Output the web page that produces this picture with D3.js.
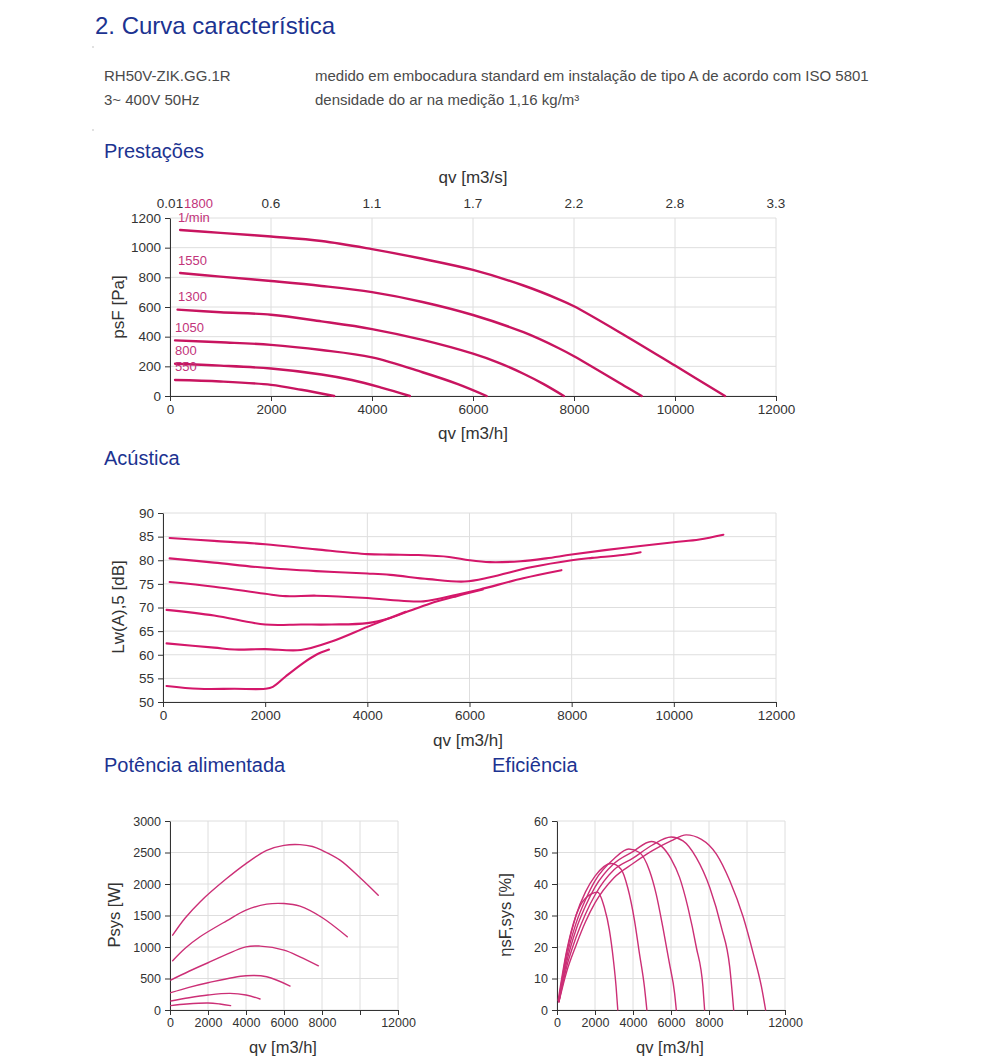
<!DOCTYPE html>
<html>
<head>
<meta charset="utf-8">
<script src="https://cdn.jsdelivr.net/npm/d3@7"></script>
<style>
body { margin: 0; background: #fff; }
svg text { font-family: "Liberation Sans", Arial, sans-serif; }
</style>
</head>
<body>
<svg id="page" width="1000" height="1061"></svg>
<script>
// ---- data ----
var speeds = ["1800", "1550", "1300", "1050", "800", "550"];

var qvTicks = [0, 2000, 4000, 6000, 8000, 10000, 12000];
var qvLabels = ["0", "2000", "4000", "6000", "8000", "10000", "12000"];
var qvSecLabels = ["0.01", "0.6", "1.1", "1.7", "2.2", "2.8", "3.3"];
var qvSmallLabels = ["0", "2000", "4000", "6000", "8000", "", "12000"];
var psTicks = [0, 200, 400, 600, 800, 1000, 1200];
var lwTicks = [50, 55, 60, 65, 70, 75, 80, 85, 90];
var pTicks = [0, 500, 1000, 1500, 2000, 2500, 3000];
var etaTicks = [0, 10, 20, 30, 40, 50, 60];

// psF [Pa] vs qv [m3/h]
var psF1800 = [[200,1119],[1000,1100],[2000,1075],[3000,1045],[4000,990],[5000,925],[6000,850],[7000,745],[7700,652],[8000,605],[9000,410],[10000,205],[10990,0]];
var psF1550 = [[200,829],[1000,805],[2000,775],[3000,742],[4000,700],[5000,634],[6000,546],[7000,430],[7700,322],[8000,268],[9000,68],[9340,0]];
var psF1300 = [[150,582],[1000,565],[2000,548],[3000,503],[4000,451],[5000,378],[6000,285],[6500,225],[7000,150],[7400,80],[7800,0]];
var psF1050 = [[100,375],[1000,362],[2000,345],[3000,310],[4000,260],[5000,160],[5700,80],[6270,0]];
var psF800  = [[100,217],[1000,205],[2000,185],[3000,145],[3600,108],[4200,55],[4750,0]];
var psF550  = [[100,108],[1000,98],[2000,75],[2600,42],[3250,0]];

// Lw(A),5 [dB] vs qv
var lw1800 = [[130,84.7],[1000,84.1],[2000,83.4],[3000,82.3],[4000,81.3],[4450,81.2],[5000,81.1],[5600,80.7],[6000,80.0],[6400,79.6],[7000,79.8],[7500,80.4],[8000,81.2],[9000,82.6],[10000,83.8],[10500,84.4],[10970,85.4]];
var lw1550 = [[130,80.4],[1000,79.5],[2000,78.4],[3000,77.7],[4000,77.2],[4450,76.9],[5200,76.0],[5900,75.5],[6400,76.4],[7200,78.5],[8000,80.0],[8400,80.5],[9000,81.1],[9350,81.7]];
var lw1300 = [[130,75.4],[1000,74.4],[2000,72.9],[2400,72.4],[3000,72.5],[4000,72.0],[4450,71.6],[5100,71.3],[5750,72.7],[6200,73.8],[7050,76.2],[7800,77.9]];
var lw1050 = [[70,69.5],[1000,68.3],[2000,66.4],[2700,66.4],[3300,66.4],[4000,66.7],[4450,67.8],[4830,69.3],[5220,70.8],[5750,72.4],[6260,73.8]];
var lw800  = [[70,62.4],[1000,61.5],[1400,61.1],[2000,61.2],[2700,61.0],[3300,62.8],[4000,65.9],[4400,67.6],[4750,69.1]];
var lw550  = [[70,53.4],[700,52.8],[1400,52.8],[2000,52.8],[2150,53.2],[2400,55.4],[2750,58.3],[3000,60.0],[3250,61.1]];

// Psys [W] vs qv
var p1800 = [[140,1188],[800,1460],[1580,1716],[2980,2086],[4000,2324],[5090,2535],[6000,2614],[6840,2625],[7500,2595],[8000,2535],[8950,2380],[10020,2095],[10960,1822]];
var p1550 = [[140,782],[800,980],[1580,1162],[2980,1415],[4000,1585],[5090,1680],[6000,1690],[6840,1648],[8000,1468],[9330,1162]];
var p1300 = [[40,475],[1000,615],[2000,750],[4000,1003],[4740,1014],[6000,951],[6840,845],[7810,702]];
var p1050 = [[40,275],[1000,360],[2000,433],[4000,544],[5090,528],[6320,380]];
var p800  = [[40,143],[1000,195],[2000,238],[3160,264],[4000,238],[4740,174]];
var p550  = [[40,69],[880,95],[2000,111],[2630,95],[3190,69]];

// eta sF,sys [%] vs qv
var eta1800 = [[100,2.6],[500,12],[1000,20.5],[1500,28],[2000,34],[3000,42],[4000,46.5],[5000,50.5],[6000,53.7],[6800,55.6],[7600,54.2],[8390,49.5],[9090,41.1],[9800,29.5],[10330,17.9],[10760,7.4],[10980,0]];
var eta1550 = [[100,2.6],[500,13.5],[1000,23],[1500,30.5],[2000,36.5],[3000,44.5],[4000,48.2],[5000,52.3],[6010,54.9],[6630,53.7],[7330,48.4],[8040,38.9],[8650,26.3],[9090,13.7],[9300,0]];
var eta1300 = [[100,2.6],[500,15],[1000,25.5],[1500,33],[2000,39],[3000,46.5],[4000,50.3],[4960,53.5],[5480,52.1],[6010,47.9],[6450,42.1],[6890,32.6],[7330,20],[7680,7.4],[7770,0]];
var eta1050 = [[100,2.8],[500,16.5],[1000,27.5],[1500,35],[2000,41],[3000,48],[3780,51.1],[4340,50],[4870,44.2],[5220,36.8],[5570,26.3],[5920,14.7],[6190,5.3],[6280,0]];
var eta800  = [[90,3],[500,18],[1000,30],[1500,37.5],[2000,42.5],[2845,46.5],[3370,44.7],[3720,38.9],[4080,28.4],[4340,17.9],[4600,7.4],[4730,0]];
var eta550  = [[60,3],[500,18.5],[1000,30],[1500,35.5],[2140,37.4],[2490,32.6],[2760,25.3],[2970,15.8],[3110,7.4],[3200,0]];

var psFCurves = [psF1800, psF1550, psF1300, psF1050, psF800, psF550];
var lwCurves = [lw1800, lw1550, lw1300, lw1050, lw800, lw550];
var pCurves = [p1800, p1550, p1300, p1050, p800, p550];
var etaCurves = [eta1800, eta1550, eta1300, eta1050, eta800, eta550];

var svg = d3.select("#page");
var blue = "#1c3391";
var grey = "#4a4a4a";

// header texts
svg.append("text").attr("x", 95).attr("y", 34).attr("fill", blue)
    .style("font-size", "24px").text("2. Curva característica");
svg.append("circle").attr("cx", 93).attr("cy", 47).attr("r", 0.8).attr("fill", "#bbb");
svg.append("circle").attr("cx", 93).attr("cy", 130).attr("r", 0.8).attr("fill", "#bbb");

function line1(x, y, t) {
    svg.append("text").attr("x", x).attr("y", y).attr("fill", grey)
        .style("font-size", "15px").text(t);
}
line1(104, 81, "RH50V-ZIK.GG.1R");
line1(315, 81, "medido em embocadura standard em instalação de tipo A de acordo com ISO 5801");
line1(104, 105, "3~ 400V 50Hz");
line1(315, 105, "densidade do ar na medição 1,16 kg/m³");

function heading(x, y, t) {
    svg.append("text").attr("x", x).attr("y", y).attr("fill", blue)
        .style("font-size", "20px").text(t);
}
heading(104, 158, "Prestações");
heading(104, 465, "Acústica");
heading(104, 772, "Potência alimentada");
heading(492, 772, "Eficiência");

/**
 * draws one framed chart panel: grid, left/bottom axes and the curves
 */
function panel(o) {
    var x = d3.scaleLinear().domain([0, 12000]).range([o.left, o.right]);
    var y = d3.scaleLinear().domain(o.yDomain).range([o.bottom, o.top]);
    var g = svg.append("g");

    //grid
    g.selectAll(".gx").data(qvTicks).enter().append("line")
        .attr("x1", d => x(d)).attr("x2", d => x(d))
        .attr("y1", o.top).attr("y2", o.bottom)
        .attr("stroke", "#dedede").attr("stroke-width", 1);
    g.selectAll(".gy").data(o.yTicks).enter().append("line")
        .attr("x1", o.left).attr("x2", o.right)
        .attr("y1", d => y(d)).attr("y2", d => y(d))
        .attr("stroke", "#dedede").attr("stroke-width", 1);

    var xAxis = g.append("g").attr("transform", "translate(0," + o.bottom + ")")
        .call(d3.axisBottom(x).tickValues(qvTicks)
            .tickFormat((d, i) => o.xLabels[i]).tickSize(5).tickSizeOuter(0).tickPadding(3));
    var yAxis = g.append("g").attr("transform", "translate(" + o.left + ",0)")
        .call(d3.axisLeft(y).tickValues(o.yTicks).tickFormat(d3.format("d"))
            .tickSize(5).tickSizeOuter(0).tickPadding(4));
    [xAxis, yAxis].forEach(function (a) {
        a.select(".domain").attr("stroke", "#333");
        a.selectAll(".tick line").attr("stroke", "#333");
        a.selectAll(".tick text").attr("fill", "#333")
            .style("font-size", o.tickSize + "px")
            .style("font-family", "'Liberation Sans', Arial, sans-serif");
    });

    var line = d3.line().x(d => x(d[0])).y(d => y(d[1])).curve(o.curve);
    g.selectAll("path.curve").data(o.series).enter().append("path")
        .attr("d", line).attr("fill", "none")
        .attr("stroke", o.color).attr("stroke-width", o.width)
        .attr("stroke-linejoin", "round").attr("stroke-linecap", "round");

    // axis titles
    g.append("text").attr("x", o.xTitle[0]).attr("y", o.xTitle[1])
        .attr("text-anchor", "middle").attr("dominant-baseline", "central")
        .attr("fill", "#333").style("font-size", o.titleSize + "px").text("qv [m3/h]");
    g.append("text").attr("transform", "translate(" + o.yTitle[0] + "," + o.yTitle[1] + ") rotate(-90)")
        .attr("text-anchor", "middle").attr("dominant-baseline", "central")
        .attr("fill", "#333").style("font-size", o.titleSize + "px").text(o.yLabel);

    return {x: x, y: y, g: g};
}

// Prestações
var pres = panel({left: 170, right: 776, top: 218, bottom: 396, yDomain: [0, 1200], yTicks: psTicks,
    xLabels: qvLabels, series: psFCurves, color: "#c8145f", width: 2.4, tickSize: 13.5, titleSize: 17,
    curve: d3.curveCatmullRom, xTitle: [473, 433], yTitle: [118, 307], yLabel: "psF [Pa]"});

pres.g.selectAll(".sec").data(qvTicks).enter().append("text")
    .attr("x", d => pres.x(d)).attr("y", 203)
    .attr("text-anchor", "middle").attr("dominant-baseline", "central")
    .attr("fill", "#333").style("font-size", "13.5px")
    .text((d, i) => qvSecLabels[i]);
pres.g.append("text").attr("x", 473).attr("y", 177)
    .attr("text-anchor", "middle").attr("dominant-baseline", "central")
    .attr("fill", "#333").style("font-size", "17px").text("qv [m3/s]");

// speed labels, just above the start of each curve
pres.g.selectAll(".spd").data(psFCurves).enter().append("text")
    .attr("x", (d, i) => i < 3 ? 178 : 175)
    .attr("y", d => pres.y(d[0][1]) - 13)
    .attr("dominant-baseline", "central")
    .attr("fill", "#c2337a").style("font-size", "13px")
    .text((d, i) => i == 0 ? "1/min" : speeds[i]);
pres.g.append("text").attr("x", 184).attr("y", pres.y(psF1800[0][1]) - 27)
    .attr("dominant-baseline", "central")
    .attr("fill", "#c2337a").style("font-size", "13px").text(speeds[0]);

// Acústica
panel({left: 163, right: 776, top: 513, bottom: 702, yDomain: [50, 90], yTicks: lwTicks,
    xLabels: qvLabels, series: lwCurves, color: "#d4176a", width: 2.1, tickSize: 13.5, titleSize: 17,
    curve: d3.curveCatmullRom, xTitle: [468, 740], yTitle: [118, 607], yLabel: "Lw(A),5 [dB]"});

// Potência alimentada
panel({left: 170, right: 398, top: 821, bottom: 1010, yDomain: [0, 3000], yTicks: pTicks,
    xLabels: qvSmallLabels, series: pCurves, color: "#cc2f76", width: 1.4, tickSize: 12.5, titleSize: 16.5,
    curve: d3.curveCatmullRom, xTitle: [283, 1047], yTitle: [114, 915], yLabel: "Psys [W]"});

// Eficiência
panel({left: 557, right: 785, top: 821, bottom: 1010, yDomain: [0, 60], yTicks: etaTicks,
    xLabels: qvSmallLabels, series: etaCurves, color: "#cc2f76", width: 1.4, tickSize: 12.5, titleSize: 16.5,
    curve: d3.curveMonotoneX, xTitle: [670, 1047], yTitle: [505, 915], yLabel: "ηsF,sys [%]"});
</script>
</body>
</html>
